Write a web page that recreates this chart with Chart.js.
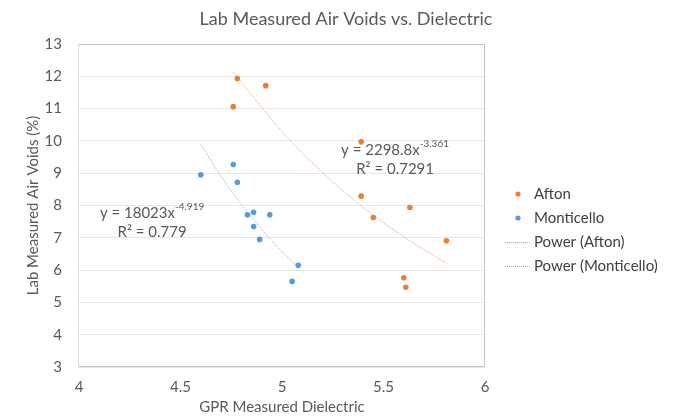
<!DOCTYPE html>
<html>
<head>
<meta charset="utf-8">
<script src="https://cdn.jsdelivr.net/npm/chart.js@4.4.1/dist/chart.umd.min.js"></script>
<style>
  html, body { margin: 0; padding: 0; background: #fff; }
  #chart { display: block; }
</style>
</head>
<body>
<canvas id="chart" width="688" height="416"></canvas>
<script>
// Lab Measured Air Voids vs. Dielectric

const aftonX = [4.78, 4.92, 4.76, 5.39, 5.39, 5.63, 5.45, 5.81, 5.60, 5.61];
const aftonY = [11.93, 11.71, 11.06, 9.97, 8.29, 7.94, 7.63, 6.91, 5.76, 5.47];
const montiX = [4.60, 4.76, 4.78, 4.83, 4.86, 4.94, 4.86, 4.89, 5.08, 5.05];
const montiY = [8.95, 9.27, 8.72, 7.71, 7.79, 7.71, 7.35, 6.95, 6.15, 5.65];

// trendlines
const aftonTrendX = [4.76, 5.0, 5.2, 5.4, 5.6, 5.81];
const aftonTrendY = [12.13, 10.29, 9.02, 7.94, 7.03, 6.21];
const montiTrendX = [4.60, 4.7, 4.8, 4.9, 5.0, 5.08];
const montiTrendY = [9.90, 8.90, 8.03, 7.26, 6.57, 6.09];

const xTicks = [4, 4.5, 5, 5.5, 6];
const yTicks = [3, 4, 5, 6, 7, 8, 9, 10, 11, 12, 13];

const ORANGE = '#ED7D31';
const BLUE = '#5B9BD5';
const ORANGE_LINE = 'rgba(237,125,49,0.75)';
const BLUE_LINE = 'rgba(91,155,213,0.75)';
const FONT = 'Lato';
const GRAY = '#595959';

const pts = (xs, ys) => xs.map((x, i) => ({ x, y: ys[i] }));

const equations = [
  { base: 'y = 2298.8x', exp: '-3.361', r2: '0.7291', x: 5.557, y: 9.71 },
  { base: 'y = 18023x', exp: '-4.919', r2: '0.779', x: 4.36, y: 7.76 }
];

const legendItems = [
  { label: 'Afton', color: ORANGE, kind: 'dot' },
  { label: 'Monticello', color: BLUE, kind: 'dot' },
  { label: 'Power (Afton)', color: ORANGE_LINE, kind: 'line' },
  { label: 'Power (Monticello)', color: BLUE_LINE, kind: 'line' }
];

const extras = {
  id: 'extras',
  beforeDatasetsDraw(chart) {
    const { ctx, chartArea: a } = chart;
    ctx.save();
    ctx.lineWidth = 1;
    ctx.strokeStyle = '#c4c4c4';
    ctx.beginPath();
    ctx.moveTo(a.left, a.top + 0.5);
    ctx.lineTo(a.right - 0.5, a.top + 0.5);
    ctx.lineTo(a.right - 0.5, a.bottom - 0.5);
    ctx.lineTo(a.left, a.bottom - 0.5);
    ctx.stroke();
    ctx.strokeStyle = '#dcdcdc';
    ctx.beginPath();
    ctx.moveTo(a.left - 0.5, a.top);
    ctx.lineTo(a.left - 0.5, a.bottom);
    ctx.stroke();
    ctx.restore();
  },
  afterDraw(chart) {
    const { ctx, scales } = chart;
    ctx.save();

    // title
    ctx.fillStyle = GRAY;
    ctx.font = `18px ${FONT}`;
    ctx.textAlign = 'center';
    ctx.textBaseline = 'middle';
    ctx.fillText('Lab Measured Air Voids vs. Dielectric', 346, 19);

    // trendline equations
    equations.forEach(eq => {
      const cx = scales.x.getPixelForValue(eq.x);
      const cy = scales.y.getPixelForValue(eq.y);
      ctx.font = `15px ${FONT}`;
      const wBase = ctx.measureText(eq.base).width;
      ctx.font = `10px ${FONT}`;
      const wExp = ctx.measureText(eq.exp).width;
      const left = cx - (wBase + wExp) / 2;
      ctx.textAlign = 'left';
      ctx.font = `15px ${FONT}`;
      ctx.fillText(eq.base, left, cy);
      ctx.font = `10px ${FONT}`;
      ctx.fillText(eq.exp, left + wBase, cy - 6);
      ctx.font = `15px ${FONT}`;
      ctx.textAlign = 'center';
      ctx.fillText('R² = ' + eq.r2, cx, cy + 19);
    });

    // legend
    ctx.textAlign = 'left';
    ctx.font = `15px ${FONT}`;
    legendItems.forEach((it, i) => {
      const y = 194 + i * 24;
      if (it.kind === 'dot') {
        ctx.fillStyle = it.color;
        ctx.beginPath();
        ctx.arc(518, y, 2.6, 0, Math.PI * 2);
        ctx.fill();
      } else {
        ctx.strokeStyle = it.color;
        ctx.lineWidth = 1;
        ctx.setLineDash([1, 1]);
        ctx.beginPath();
        ctx.moveTo(505, y + 0.5);
        ctx.lineTo(531, y + 0.5);
        ctx.stroke();
        ctx.setLineDash([]);
      }
      ctx.fillStyle = '#404040';
      ctx.fillText(it.label, 534, y);
    });
    ctx.restore();
  }
};

new Chart(document.getElementById('chart'), {
  type: 'scatter',
  data: {
    datasets: [
      { label: 'Afton', data: pts(aftonX, aftonY), backgroundColor: ORANGE, borderColor: ORANGE, pointRadius: 2.8, pointBorderWidth: 0 },
      { label: 'Monticello', data: pts(montiX, montiY), backgroundColor: BLUE, borderColor: BLUE, pointRadius: 2.8, pointBorderWidth: 0 },
      { label: 'Power (Afton)', data: pts(aftonTrendX, aftonTrendY), showLine: true, borderColor: ORANGE_LINE, borderWidth: 1, borderDash: [1, 1], pointRadius: 0, cubicInterpolationMode: 'monotone' },
      { label: 'Power (Monticello)', data: pts(montiTrendX, montiTrendY), showLine: true, borderColor: BLUE_LINE, borderWidth: 1, borderDash: [1, 1], pointRadius: 0, cubicInterpolationMode: 'monotone' }
    ]
  },
  options: {
    responsive: false,
    animation: false,
    devicePixelRatio: 1,
    layout: { padding: { left: 0, right: 203, top: 44, bottom: 0 } },
    plugins: { legend: { display: false }, title: { display: false }, tooltip: { enabled: false } },
    scales: {
      x: {
        type: 'linear', min: 4, max: 6,
        afterBuildTicks: s => { s.ticks = xTicks.map(v => ({ value: v })); },
        afterFit: s => { s.height = 49; },
        grid: { display: false },
        border: { display: false },
        ticks: { color: GRAY, font: { family: FONT, size: 15 }, padding: 3, maxRotation: 0, callback: v => String(v) },
        title: { display: true, text: 'GPR Measured Dielectric', color: GRAY, font: { family: FONT, size: 15 }, padding: 0 }
      },
      y: {
        type: 'linear', min: 3, max: 13,
        afterBuildTicks: s => { s.ticks = yTicks.map(v => ({ value: v })); },
        afterFit: s => { s.width = 79; },
        grid: { color: '#e6e6e6', drawTicks: false },
        border: { display: false },
        ticks: { color: GRAY, font: { family: FONT, size: 15 }, padding: 17, callback: v => String(v) },
        title: { display: true, text: 'Lab Measured Air Voids (%)', color: GRAY, font: { family: FONT, size: 15 }, padding: { top: 24, bottom: 0 } }
      }
    }
  },
  plugins: [extras]
});
</script>
</body>
</html>
